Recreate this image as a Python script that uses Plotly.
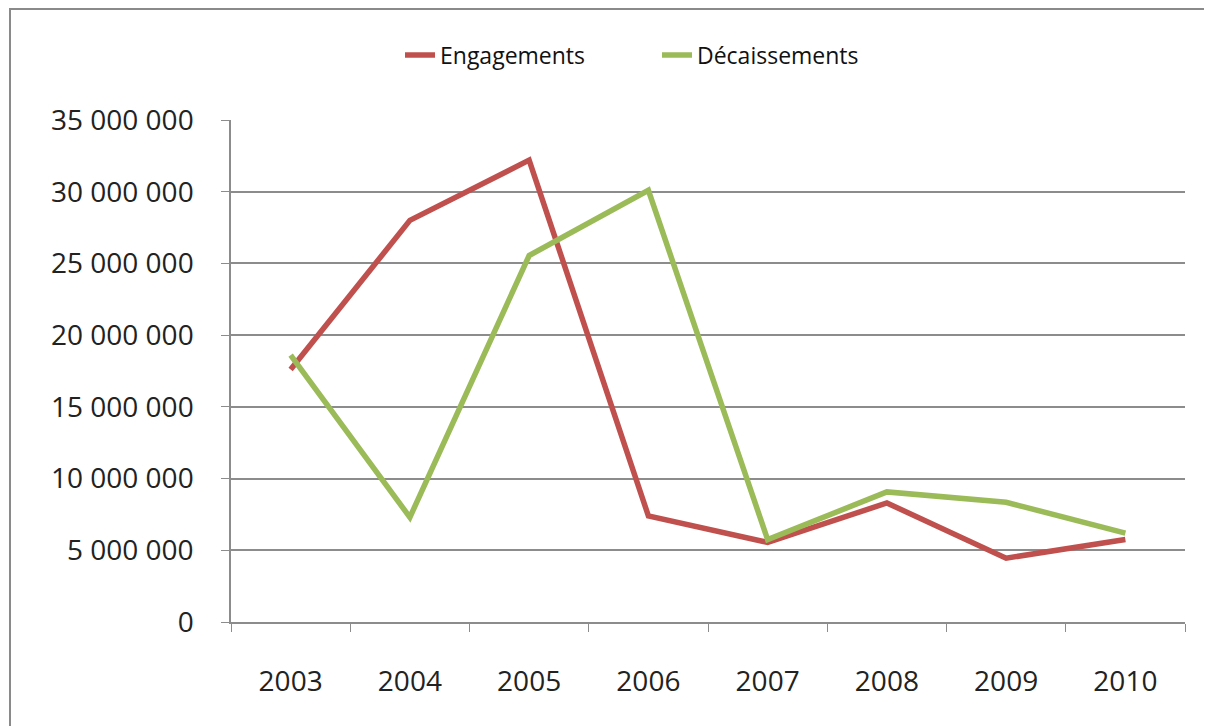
import plotly.graph_objects as go

years = ['2003', '2004', '2005', '2006', '2007', '2008', '2009', '2010']
engagements = [17600000, 28000000, 32200000, 7400000, 5550000, 8300000, 4450000, 5750000]
decaissements = [18600000, 7300000, 25550000, 30100000, 5750000, 9070000, 8350000, 6200000]

# page has an 8px body margin, so the figure is shifted by that much
OFF = 8
W, H = 1212 - OFF, 726 - OFF
L, R, T, B = 231 - OFF, 27, 120 - OFF, 104
pw, ph = W - L - R, H - T - B

fig = go.Figure()

fig.add_trace(
    go.Scatter(
        x=years,
        y=engagements,
        mode='lines',
        name='Engagements',
        line=dict(color='#C0504D', width=5.5)
    )
)

fig.add_trace(
    go.Scatter(
        x=years,
        y=decaissements,
        mode='lines',
        name='Décaissements',
        line=dict(color='#9BBB59', width=5.5)
    )
)

# outer frame of the chart
fig.add_shape(
    type='rect',
    xref='paper',
    yref='paper',
    x0=(10 - OFF - L) / pw,
    x1=(W + 5 - L) / pw,
    y0=-(H + 5 - T - ph) / ph,
    y1=(T + ph - 1) / ph,
    line=dict(color='#8a8a8a', width=2),
    layer='below'
)

fig.update_layout(
    width=W,
    height=H,
    margin=dict(l=L, r=R, t=T, b=B),
    paper_bgcolor='white',
    plot_bgcolor='white',
    separators=', ',
    font=dict(family='Open Sans', size=28, color='#222222'),
    showlegend=True,
    legend=dict(
        orientation='h',
        x=(400 - OFF - L) / pw,
        xanchor='left',
        y=(T + ph - (55 - OFF)) / ph,
        yanchor='middle',
        font=dict(size=23, color='#111111'),
        entrywidth=212,
        entrywidthmode='pixels',
        tracegroupgap=0
    ),
    xaxis=dict(
        type='category',
        range=[-0.5, 7.5],
        showgrid=False,
        showline=True,
        linecolor='#8c8c8c',
        linewidth=1.5,
        ticks='outside',
        tickson='boundaries',
        ticklen=8,
        tickcolor='#8c8c8c',
        ticklabelstandoff=34,
        fixedrange=True
    ),
    yaxis=dict(
        range=[0, 35000000],
        dtick=5000000,
        tickformat=',d',
        showgrid=True,
        gridcolor='#8c8c8c',
        gridwidth=1.5,
        showline=True,
        linecolor='#8c8c8c',
        linewidth=1.5,
        ticks='outside',
        ticklen=8,
        tickcolor='#8c8c8c',
        ticklabelstandoff=22,
        zeroline=False,
        fixedrange=True
    )
)

fig.write_html('out.html')
